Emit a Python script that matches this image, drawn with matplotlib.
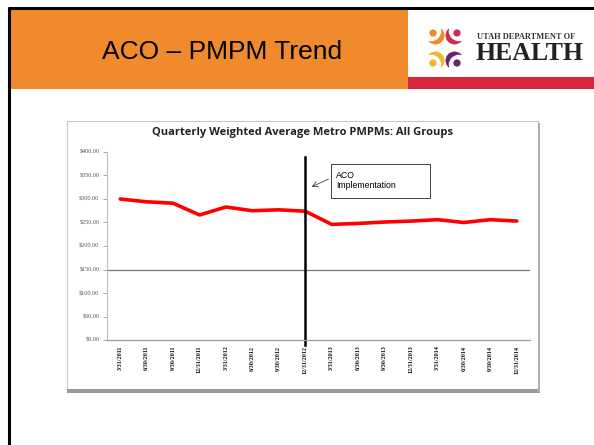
import matplotlib
matplotlib.use("Agg")
import matplotlib.pyplot as plt
import numpy as np
from matplotlib.patches import Rectangle, Circle, Polygon

# ---- data ----
quarters = ["3/31/2011", "6/30/2011", "9/30/2011", "12/31/2011",
            "3/31/2012", "6/30/2012", "9/30/2012", "12/31/2012",
            "3/31/2013", "6/30/2013", "9/30/2013", "12/31/2013",
            "3/31/2014", "6/30/2014", "9/30/2014", "12/31/2014"]
pmpm = [300, 294, 291, 266, 283, 275, 277, 274,
        246, 248, 251, 253, 256, 250, 256, 253]
y_ticks = [0, 50, 100, 150, 200, 250, 300, 350, 400]
aco_quarter = "12/31/2012"

W, H = 594, 445
fig = plt.figure(figsize=(W / 100, H / 100), dpi=100)
fig.patch.set_facecolor("white")

# ---- background slide ----
bg = fig.add_axes([0, 0, 1, 1], zorder=0)
bg.set_xlim(0, W)
bg.set_ylim(H, 0)
bg.axis("off")

bg.add_patch(Rectangle((10, 9), 398, 80, facecolor="#f18a2d", edgecolor="none"))
bg.add_patch(Rectangle((408, 77), 186, 12, facecolor="#d8263f", edgecolor="none"))
bg.plot([8, W], [8, 8], color="black", lw=2.2, solid_capstyle="butt")
bg.plot([9, 9], [7, H], color="black", lw=2.2, solid_capstyle="butt")
bg.text(222, 52, "ACO \u2013 PMPM Trend", fontsize=19, family="Liberation Sans",
        ha="center", va="center", color="black")


def crescent(center, R, w, t1, t2, color):
    th = np.radians(np.linspace(t1, t2, 40))
    bulge = w * np.sin(np.linspace(0, np.pi, 40))
    ox = center[0] + (R + bulge) * np.cos(th)
    oy = center[1] + (R + bulge) * np.sin(th)
    ix = center[0] + R * np.cos(th[::-1])
    iy = center[1] + R * np.sin(th[::-1])
    pts = np.column_stack([np.concatenate([ox, ix]), np.concatenate([oy, iy])])
    return Polygon(pts, closed=True, facecolor=color, edgecolor=color, lw=0.4)


# logo icon (4 figures: head dot + crescent body)
logo = [("#f08a24", (433, 33), (431, 31), -12, 102),
        ("#d42a4e", (457, 33), (459, 31), 78, 192),
        ("#f2b632", (433, 63), (431, 65), 258, 372),
        ("#6b1f6f", (457, 63), (459, 65), 168, 282)]
for col, dot, ac, t1, t2 in logo:
    bg.add_patch(Circle(dot, 3.6, color=col, lw=0))
    bg.add_patch(crescent(ac, 10.5, 4.5, t1, t2, col))
bg.text(477, 37, "UTAH DEPARTMENT OF", fontsize=6.0, family="Liberation Serif",
        fontweight="bold", color="#333333", ha="left", va="center")
bg.text(475, 54, "HEALTH", fontsize=18.5, family="Liberation Serif",
        fontweight="bold", color="#222222", ha="left", va="center")

# chart frame with shadow
bg.add_patch(Rectangle((67, 121), 471, 269, facecolor="white",
                       edgecolor="#c8c8c8", lw=0.8))
bg.add_patch(Rectangle((67, 389), 473, 3.5, facecolor="#999999", edgecolor="none"))
bg.add_patch(Rectangle((537.5, 123), 2.5, 269, facecolor="#b0b0b0", edgecolor="none"))
bg.text(303, 133, "Quarterly Weighted Average Metro PMPMs: All Groups",
        fontsize=8.0, family="Open Sans", fontweight="bold",
        ha="center", va="center", color="#222222")

# ---- chart ----
left, right = 107, 530
top, bottom = 152, 340
ax = fig.add_axes([left / W, 1 - bottom / H, (right - left) / W, (bottom - top) / H],
                  zorder=1)
ax.set_facecolor("none")
x = list(range(len(quarters)))
ax.plot(x, pmpm, color="#ff0000", lw=2.6, solid_joinstyle="round",
        solid_capstyle="round")
ax.axhline(150, color="#777777", lw=0.9)
xi = quarters.index(aco_quarter)
ax.plot([xi, xi], [-11, 389], color="black", lw=1.8, clip_on=False)

ax.set_xlim(-0.5, len(quarters) - 0.5)
ax.set_ylim(0, 400)
ax.set_yticks(y_ticks)
ax.set_yticklabels([f"${v:.2f}" for v in y_ticks], fontsize=4.4, color="#555555",
                   family="Liberation Serif")
ax.set_xticks(x)
ax.set_xticklabels(quarters, rotation=90, fontsize=4.4, color="#111111",
                   fontweight="bold", family="Liberation Serif")
ax.tick_params(axis="y", length=3, width=0.6, color="#999999", pad=2.5)
ax.tick_params(axis="x", length=0, pad=4)
for s in ["top", "right"]:
    ax.spines[s].set_visible(False)
ax.spines["left"].set_color("#bbbbbb")
ax.spines["left"].set_linewidth(0.8)
ax.spines["bottom"].set_color("#999999")
ax.spines["bottom"].set_linewidth(0.9)

# ---- annotation overlay ----
ov = fig.add_axes([0, 0, 1, 1], zorder=2)
ov.set_xlim(0, W)
ov.set_ylim(H, 0)
ov.axis("off")
ov.add_patch(Rectangle((331, 164), 99, 34, facecolor="white",
                       edgecolor="#444444", lw=0.7))
ov.text(336, 175, "ACO", fontsize=6.3, family="Liberation Sans", va="center", ha="left")
ov.text(336, 186, "Implementation", fontsize=6.3, family="Liberation Sans",
        va="center", ha="left")
ov.annotate("", xy=(309, 188), xytext=(331, 178),
            arrowprops=dict(arrowstyle="->", color="#444444", lw=0.6))

fig.savefig("out.png", dpi=100)
